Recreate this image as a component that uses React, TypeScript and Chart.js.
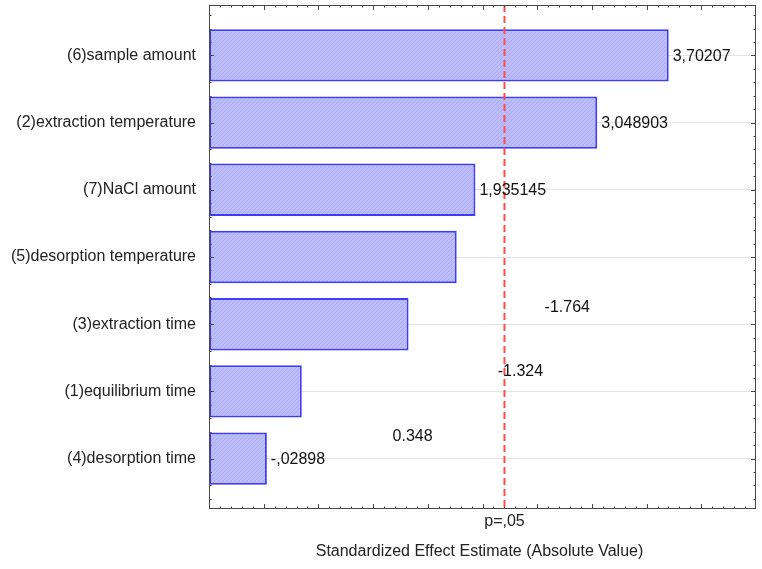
import React, { useEffect, useRef } from "react";
import { Chart, registerables } from "chart.js";

Chart.register(...registerables);

const categories = [
  "(6)sample amount",
  "(2)extraction temperature",
  "(7)NaCl amount",
  "(5)desorption temperature",
  "(3)extraction time",
  "(1)equilibrium time",
  "(4)desorption time",
];
const effects = [3.70207, 3.048903, 1.935145, -1.764, -1.324, 0.348, -0.02898];
const barLabels = ["3,70207", "3,048903", "1,935145", "", "", "", "-,02898"];
// free-floating note texts: [text, x value, category position]
const noteTexts = ["-1.764", "-1.324", "0.348"];
const noteX = [2.775, 2.347, 1.361];
const noteY = [3.75, 4.71, 5.67];
const pCritical = 2.201;
const pLabel = "p=,05";
const xTitle = "Standardized Effect Estimate (Absolute Value)";
const xMin = -0.5;
const xMax = 4.5;
const xMajorStep = 0.5;
const xMinorStep = 0.1;

const FONT = "'Liberation Sans', Arial, sans-serif";

function makePattern(): CanvasPattern | string {
  const c = document.createElement("canvas");
  c.width = 4;
  c.height = 4;
  const g = c.getContext("2d");
  if (!g) return "#bcbcf8";
  g.fillStyle = "#bcbcfa";
  g.fillRect(0, 0, 4, 4);
  g.fillStyle = "#adadf2";
  g.fillRect(0, 3, 1, 1);
  g.fillRect(1, 2, 1, 1);
  g.fillRect(2, 1, 1, 1);
  g.fillRect(3, 0, 1, 1);
  const p = g.createPattern(c, "repeat");
  return p || "#bcbcf8";
}

const overlayPlugin = {
  id: "overlay",
  afterDatasetsDraw(chart: any) {
    const { ctx, chartArea: a, scales } = chart;
    const xs = scales.x;
    const ys = scales.y;
    ctx.save();

    // dashed significance line
    const px = xs.getPixelForValue(pCritical);
    ctx.strokeStyle = "#ff4d4d";
    ctx.lineWidth = 2;
    ctx.setLineDash([7, 4]);
    ctx.beginPath();
    ctx.moveTo(px, a.top);
    ctx.lineTo(px, a.bottom);
    ctx.stroke();
    ctx.setLineDash([]);

    // frame
    ctx.strokeStyle = "#484848";
    ctx.lineWidth = 1;
    ctx.strokeRect(a.left + 0.5, a.top + 0.5, a.right - a.left - 1, a.bottom - a.top - 1);

    // x ticks (top and bottom, inward)
    const nMinor = Math.round((xMax - xMin) / xMinorStep);
    for (let k = 1; k < nMinor; k++) {
      const v = xMin + k * xMinorStep;
      const isMajor = Math.abs(v / xMajorStep - Math.round(v / xMajorStep)) < 1e-6;
      const len = isMajor ? 5 : 2.5;
      const x = Math.round(xs.getPixelForValue(v)) + 0.5;
      ctx.beginPath();
      ctx.moveTo(x, a.bottom);
      ctx.lineTo(x, a.bottom - len);
      ctx.moveTo(x, a.top);
      ctx.lineTo(x, a.top + len);
      ctx.stroke();
    }
    // y ticks (left and right, inward)
    for (let k = -3; k <= categories.length * 5 + 3; k++) {
      const v = k / 5;
      if (v <= ys.min || v >= ys.max) continue;
      const isMajor = k % 5 === 0;
      const len = isMajor ? 5 : 2.5;
      const y = Math.round(ys.getPixelForValue(v)) + 0.5;
      ctx.beginPath();
      ctx.moveTo(a.left, y);
      ctx.lineTo(a.left + len, y);
      ctx.moveTo(a.right, y);
      ctx.lineTo(a.right - len, y);
      ctx.stroke();
    }

    // value labels
    ctx.fillStyle = "#111";
    ctx.font = `16px ${FONT}`;
    ctx.textBaseline = "middle";
    ctx.textAlign = "left";
    barLabels.forEach((t, i) => {
      if (!t) return;
      const x = xs.getPixelForValue(Math.abs(effects[i]));
      const y = ys.getPixelForValue(i);
      ctx.fillText(t, x + 4, y + 1);
    });

    // notes
    ctx.textAlign = "center";
    noteTexts.forEach((t, i) => {
      ctx.fillText(t, xs.getPixelForValue(noteX[i]), ys.getPixelForValue(noteY[i]));
    });

    // p label and axis title
    ctx.fillStyle = "#222";
    ctx.font = `16px ${FONT}`;
    ctx.fillText(pLabel, px, a.bottom + 13);
    ctx.fillText(xTitle, (a.left + a.right) / 2 - 3, a.bottom + 43);

    ctx.restore();
  },
};

export default function App() {
  const ref = useRef<HTMLCanvasElement | null>(null);

  useEffect(() => {
    if (!ref.current) return;
    const pattern = makePattern();
    const chart = new Chart(ref.current, {
      type: "bar",
      data: {
        datasets: [
          {
            data: effects.map((v, i) => ({ x: Math.abs(v), y: i })),
            base: xMin,
            backgroundColor: pattern as any,
            borderColor: "#3c3cf6",
            borderWidth: 2,
            borderSkipped: false,
            categoryPercentage: 0.78,
            barPercentage: 1,
          },
        ],
      },
      options: {
        indexAxis: "y",
        responsive: false,
        animation: false,
        layout: { padding: { top: 5, right: 6, bottom: 60, left: 0 } },
        plugins: {
          legend: { display: false },
          tooltip: { enabled: false },
          title: { display: false },
        },
        scales: {
          x: {
            type: "linear",
            display: false,
            min: xMin,
            max: xMax,
          },
          y: {
            type: "linear",
            reverse: true,
            offset: false,
            min: -0.75,
            max: categories.length - 0.25,
            afterBuildTicks: (s: any) => {
              s.ticks = categories.map((_, i) => ({ value: i }));
            },
            afterFit: (s: any) => {
              s.width = 209;
              s.paddingTop = 0;
              s.paddingBottom = 0;
            },
            ticks: {
              callback: (v: any) => categories[Math.round(Number(v))] ?? "",
              padding: 13,
              color: "#222",
              font: { family: FONT, size: 16 },
            },
            grid: { drawTicks: false, offset: false, color: "#e4e4e4", lineWidth: 1 },
            border: { display: false },
          },
        },
      } as any,
      plugins: [overlayPlugin],
    });
    return () => chart.destroy();
  }, []);

  return (
    <div style={{ position: "absolute", left: 0, top: 0, width: 762, height: 569, background: "#fff" }}>
      <canvas ref={ref} width={762} height={569} style={{ display: "block" }} />
    </div>
  );
}
